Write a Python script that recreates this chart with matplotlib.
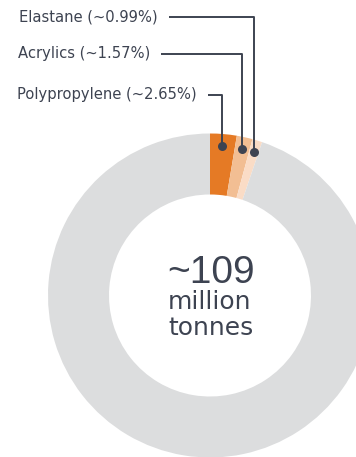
import numpy as np
import matplotlib
matplotlib.use("Agg")
import matplotlib.pyplot as plt
from matplotlib import font_manager

# fibre shares in percent (labelled slices), rest is everything else
labels = ["Polypropylene", "Acrylics", "Elastane"]
shares = [2.65, 1.57, 0.99]
label_text = ["Polypropylene (~2.65%)", "Acrylics (~1.57%)", "Elastane (~0.99%)"]
total_text = ["~109", "million", "tonnes"]

W, H = 356, 457
DARK = "#3d4351"
colors = ["#e57a25", "#f2be93", "#fadcc6", "#dcddde"]

# look for a narrow face for the labels, otherwise use Liberation Sans smaller
narrow = [f for f in font_manager.fontManager.ttflist
          if ("narrow" in f.fname.lower() or "condensed" in f.fname.lower())
          and "bold" not in f.fname.lower() and "italic" not in f.fname.lower()
          and "oblique" not in f.fname.lower()]
narrow.sort(key=lambda f: (0 if "liberation" in f.fname.lower() else 1, f.fname))
if narrow:
    lab_prop = font_manager.FontProperties(fname=narrow[0].fname, size=11.8)
else:
    lab_prop = font_manager.FontProperties(family=["Liberation Sans", "DejaVu Sans"], size=11.8)

fig = plt.figure(figsize=(W / 100, H / 100), dpi=100)
ax = fig.add_axes([0, 0, 1, 1])

values = shares + [100 - sum(shares)]
cx, cy = 210, H - 295.5
R = 162
wedges, _ = ax.pie(values, colors=colors, startangle=90, counterclock=False,
                   center=(cx, cy), radius=R,
                   wedgeprops=dict(width=61, linewidth=0))
ax.set_xlim(0, W)
ax.set_ylim(0, H)
ax.set_aspect("auto")
ax.axis("off")

# labels with elbow leader lines down to a dot in each slice
label_y = [95, 53.5, 17.3]
label_x = [17, 18, 19]
fig.canvas.draw()
renderer = fig.canvas.get_renderer()
for i, w in enumerate(wedges[:3]):
    mid = np.deg2rad((w.theta1 + w.theta2) / 2)
    dx = cx + 150 * np.cos(mid)
    dy = cy + 150 * np.sin(mid)
    ty = H - label_y[i]
    t = ax.text(label_x[i], ty, label_text[i], ha="left", va="center",
                color=DARK, fontproperties=lab_prop)
    bb = t.get_window_extent(renderer)
    x0 = ax.transData.inverted().transform((bb.x1, 0))[0] + 11
    ax.plot([x0, dx, dx], [ty, ty, dy], color=DARK, lw=1.4, solid_capstyle="butt")
    ax.plot(dx, dy, "o", color=DARK, ms=6.5, mec="none")

ax.text(211, H - 282.7, total_text[0], ha="center", va="baseline",
        fontsize=28, color=DARK, family=["Liberation Sans", "DejaVu Sans"])
ax.text(210, H - 309.3, total_text[1], ha="center", va="baseline",
        fontsize=18, color=DARK, family="DejaVu Sans")
ax.text(211, H - 335, total_text[2], ha="center", va="baseline",
        fontsize=18, color=DARK, family="DejaVu Sans")

fig.savefig("out.png", dpi=100)
